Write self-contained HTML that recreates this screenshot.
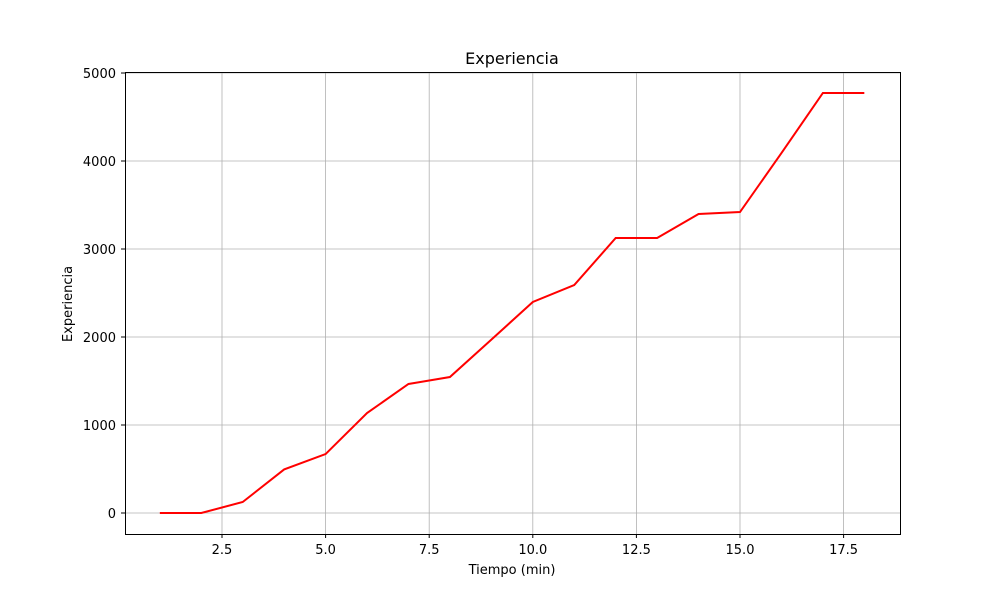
<!DOCTYPE html>
<html><head><meta charset="utf-8"><style>
body{margin:0;background:#fff;font-family:"DejaVu Sans","Liberation Sans",sans-serif}
svg text{font-family:"DejaVu Sans","Liberation Sans",sans-serif;font-size:13px;fill:#000}
</style></head><body>
<svg id="chart" width="1000" height="600">
<text x="512" y="64" text-anchor="middle" style="font-size:16px">Experiencia</text>
<g id="grid"></g>
<g id="ticks"></g>
<polyline id="line" fill="none" stroke="#ff0000" stroke-width="2"/>
<rect x="125.5" y="72.5" width="775" height="462" fill="none" stroke="#000" stroke-width="1"/>
<text x="512" y="574" text-anchor="middle">Tiempo (min)</text>
<text transform="translate(72,304) rotate(-90)" text-anchor="middle">Experiencia</text>
</svg>
<script>
const xs=[1,2,3,4,5,6,7,8,9,10,11,12,13,14,15,16,17,18];
const ys=[0,0,125,495,670,1136,1466,1545,1970,2398,2590,3125,3125,3398,3420,4090,4773,4773];
const xTicks=[2.5,5.0,7.5,10.0,12.5,15.0,17.5];
const yTicks=[0,1000,2000,3000,4000,5000];
const X=v=>222+(v-2.5)*103.6/2.5;
const Y=v=>513-v*0.088;
const ns="http://www.w3.org/2000/svg";
const grid=document.getElementById('grid'),ticks=document.getElementById('ticks');
function mk(tag,attrs,parent){const e=document.createElementNS(ns,tag);for(const k in attrs)e.setAttribute(k,attrs[k]);parent.appendChild(e);return e;}
xTicks.forEach(t=>{const x=X(t);
const g=mk('line',{x1:x,x2:x,y1:72,y2:534,stroke:'#b0b0b0','stroke-width':0.8},grid);


const tk=mk('line',{x1:x,x2:x,y1:534,y2:538,stroke:'#000'},ticks);


const tx=mk('text',{x:x,y:554,'text-anchor':'middle'},ticks);tx.textContent=t.toFixed(1);

});
yTicks.forEach(t=>{const y=Y(t);
const g=mk('line',{x1:125,x2:900,y1:y,y2:y,stroke:'#b0b0b0','stroke-width':0.8},grid);


const tk=mk('line',{x1:121,x2:125,y1:y,y2:y,stroke:'#000'},ticks);


const tx=mk('text',{x:116,y:y+5,'text-anchor':'end'},ticks);tx.textContent=t;

});
document.getElementById('line').setAttribute('points',xs.map((x,i)=>X(x)+','+Y(ys[i])).join(' '));
</script>
</body></html>
